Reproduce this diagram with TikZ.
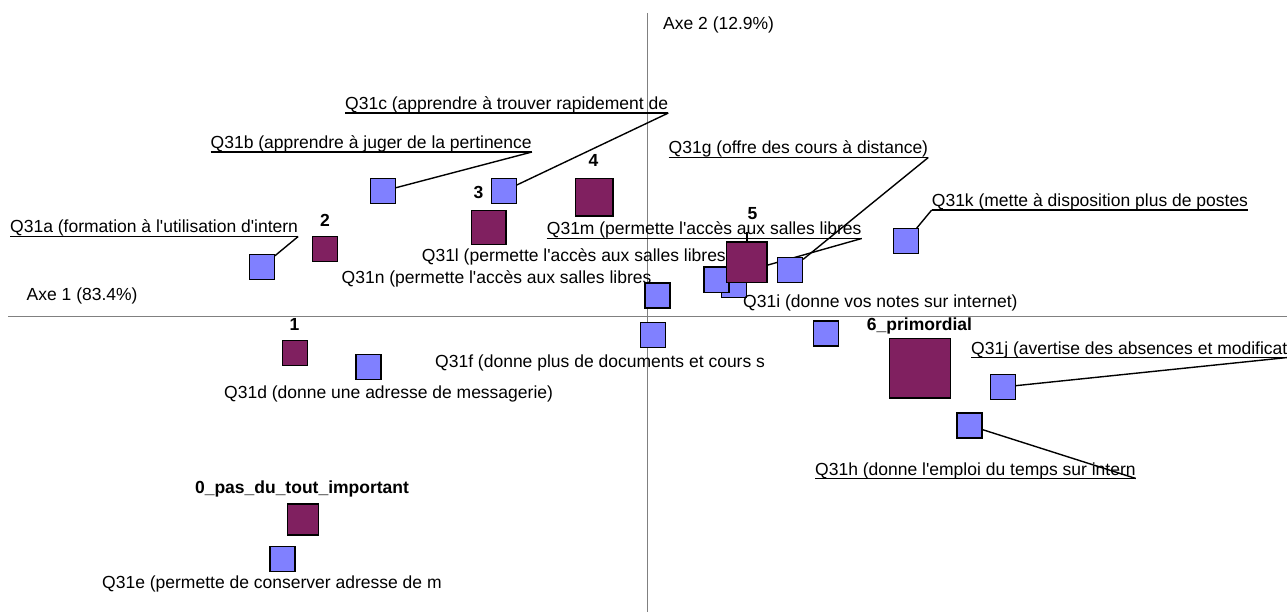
\documentclass[tikz,border=0pt]{standalone}
\usepackage{fontspec}
\setmainfont{Liberation Sans}
\usetikzlibrary{calc}
\pgfdeclarelayer{bg}
\pgfsetlayers{bg,main}
\definecolor{plum}{HTML}{802060}
\definecolor{periw}{HTML}{8080FF}
\definecolor{axisgray}{HTML}{808080}
\newcommand{\sq}{\textquotesingle}
\begin{document}
\begin{tikzpicture}[x=1pt,y=-1pt,
  lbl/.style={anchor=base west,inner sep=0pt,font=\fontsize{17.5}{21}\selectfont},
  blbl/.style={anchor=base,inner sep=0pt,font=\fontsize{17.5}{21}\selectfont\bfseries},
  bsq/.style={draw=black,fill=periw,line width=1.2pt,inner sep=0pt,minimum size=25pt},
  psq/.style={draw=black,fill=plum,line width=1.2pt,inner sep=0pt},
  axisline/.style={draw=axisgray,line width=0.9pt},
  leader/.style={draw=black,line width=1.4pt},
]
\useasboundingbox (0,0) rectangle (1287,612);

% axes
\coordinate (hx0) at (8,316.5);
\coordinate (hx1) at (1287,316.5);
\coordinate (vy0) at (647,13);
\coordinate (vy1) at (647,612);
\begin{pgfonlayer}{bg}
\fill[white] (0,0) rectangle (1287,612);
\draw[axisline] (hx0) -- (hx1);
\draw[axisline] (vy0) -- (vy1);
\end{pgfonlayer}
\node[lbl] (axe2) at (663,30) {Axe 2 (12.9\%)};
\node[lbl] (axe1) at (26.5,300.5) {Axe 1 (83.4\%)};

% blue squares (items)
\node[bsq] (qb) at (382.7,191.2) {};
\node[bsq] (qc) at (503.7,191.2) {};
\node[bsq] (qa) at (261.7,266.7) {};
\node[bsq] (qd) at (368.4,367) {};
\node[bsq] (qe) at (282.4,558.7) {};
\node[bsq] (qn) at (657.5,295.5) {};
\node[bsq] (qf) at (653.2,335) {};
\node[bsq] (qi) at (734,285.3) {};
\node[bsq] (ql) at (716.5,279.6) {};
\node[bsq] (qg) at (790,270) {};
\node[bsq] (qk) at (905.8,241.3) {};
\node[bsq] (qx) at (825.8,333.5) {};
\node[bsq] (qj) at (1003,387) {};
\node[bsq] (qh) at (969.5,425.5) {};
\coordinate (qm) at (745,271.5);

% purple squares (modalities)
\node[psq,minimum size=31pt] (s0) at (303,519.5) {};
\node[psq,minimum size=25pt] (s1) at (295,353) {};
\node[psq,minimum size=25pt] (s2) at (325.3,249.2) {};
\node[psq,minimum size=34.5pt] (s3) at (488.8,227.5) {};
\node[psq,minimum size=37.5pt] (s4) at (594.2,197.2) {};
\node[psq,minimum size=40.5pt] (s5) at (746.8,262.2) {};
\node[psq,minimum width=61pt,minimum height=59.5pt] (s6) at (920,368.2) {};

% bold labels
\node[blbl] (l0) at (302,493) {0\_pas\_du\_tout\_important};
\node[blbl] (l1) at (294.5,330) {1};
\node[blbl] (l2) at (325,227) {2};
\node[blbl] (l3) at (478.5,199) {3};
\node[blbl] (l4) at (593.5,167) {4};
\node[blbl] (l5) at (752.5,220) {5};
\node[blbl] (l6) at (919.5,330) {6\_primordial};
\coordinate (c5) at (746.8,232.5);
\draw[leader] (c5) -- (s5.north);

% item labels
\node[lbl] (ta) at (10,233) {Q31a (formation à l\sq utilisation d\sq intern};
\node[lbl] (tb) at (210.5,148.5) {Q31b (apprendre à juger de la pertinence};
\node[lbl] (tc) at (345,109.5) {Q31c (apprendre à trouver rapidement de};
\node[lbl] (tg) at (668.5,154) {Q31g (offre des cours à distance)};
\node[lbl] (tk) at (931.7,206.5) {Q31k (mette à disposition plus de postes};
\node[lbl] (tm) at (546.7,235) {Q31m (permette l\sq accès aux salles libres};
\node[lbl] (tl) at (421.7,261.5) {Q31l (permette l\sq accès aux salles libres};
\node[lbl] (tn) at (341.5,283.5) {Q31n (permette l\sq accès aux salles libres};
\node[lbl] (ti) at (743,307) {Q31i (donne vos notes sur internet)};
\node[lbl] (tf) at (435,367.5) {Q31f (donne plus de documents et cours s};
\node[lbl] (tj) at (971,354) {Q31j (avertise des absences et modificat};
\node[lbl] (th) at (815,475) {Q31h (donne l\sq emploi du temps sur intern};
\node[lbl] (td) at (224,398) {Q31d (donne une adresse de messagerie)};
\node[lbl] (te) at (102,588) {Q31e (permette de conserver adresse de m};

% underlines and leaders
\begin{pgfonlayer}{bg}
\foreach \t/\q in {ta/qa,tb/qb,tc/qc,tg/qg,tm/qm,tj/qj,th/qh}{
  \draw[leader] ($(\t.base west)+(0,3.5)$) -- ($(\t.base east)+(0,3.5)$) coordinate (u\t);
  \draw[leader] (u\t) -- (\q);
}
\draw[leader] ($(tk.base west)+(0,3.5)$) coordinate (utk) -- ($(tk.base east)+(0,3.5)$);
\draw[leader] (utk) -- (qk);
\end{pgfonlayer}
\end{tikzpicture}
\end{document}
